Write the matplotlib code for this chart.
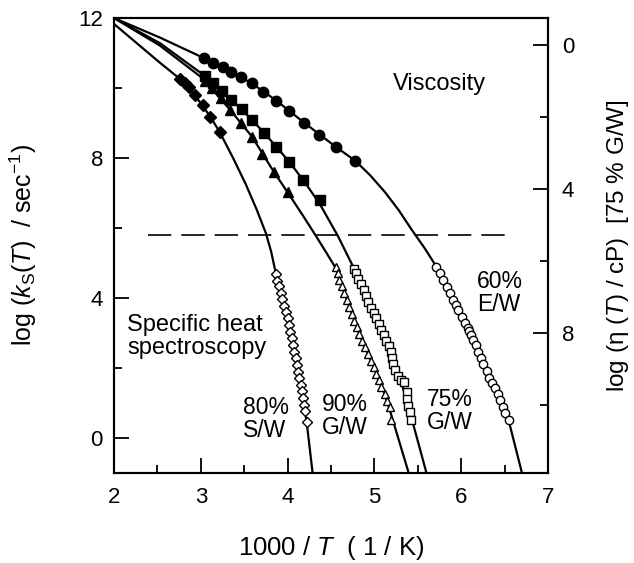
import matplotlib
matplotlib.use('Agg')
import matplotlib.pyplot as plt

plt.rcParams['font.family'] = ['Liberation Sans', 'DejaVu Sans']
plt.rcParams['mathtext.fontset'] = 'custom'
plt.rcParams['mathtext.rm'] = 'Liberation Sans'
plt.rcParams['mathtext.it'] = 'Liberation Sans:italic'

# ---------------- data ----------------
# Viscosity (filled markers), x = 1000/T, y = log k
visc_ew_x = [3.04, 3.14, 3.25, 3.35, 3.46, 3.59, 3.72, 3.87, 4.02, 4.19, 4.36, 4.56, 4.78]
visc_ew_y = [10.85, 10.72, 10.59, 10.46, 10.31, 10.13, 9.89, 9.64, 9.35, 9.01, 8.67, 8.31, 7.92]

visc_g75_x = [3.05, 3.14, 3.24, 3.35, 3.47, 3.59, 3.73, 3.87, 4.02, 4.18, 4.37]
visc_g75_y = [10.34, 10.15, 9.92, 9.66, 9.40, 9.09, 8.72, 8.32, 7.89, 7.36, 6.80]

visc_g90_x = [3.05, 3.13, 3.23, 3.34, 3.46, 3.59, 3.71, 3.84, 4.00]
visc_g90_y = [10.20, 10.00, 9.72, 9.37, 8.99, 8.61, 8.11, 7.61, 7.02]

visc_sw_x = [2.76, 2.82, 2.86, 2.93, 3.02, 3.11, 3.22]
visc_sw_y = [10.26, 10.13, 10.04, 9.80, 9.51, 9.18, 8.73]

# Specific heat spectroscopy (open markers)
heat_ew_x = [5.715, 5.754, 5.793, 5.831, 5.870, 5.908, 5.935, 5.966, 6.005, 6.043,
             6.074, 6.090, 6.113, 6.140, 6.167, 6.198, 6.228, 6.256, 6.294, 6.321,
             6.352, 6.390, 6.421, 6.448, 6.479, 6.506, 6.545]
heat_ew_y = [4.89, 4.71, 4.51, 4.32, 4.13, 3.94, 3.80, 3.66, 3.47, 3.28,
             3.13, 3.06, 2.94, 2.80, 2.66, 2.47, 2.28, 2.11, 1.91, 1.72,
             1.56, 1.42, 1.25, 1.09, 0.90, 0.71, 0.51]

heat_g75_x = [4.770, 4.789, 4.816, 4.847, 4.878, 4.905, 4.932, 4.963, 4.994, 5.021,
              5.048, 5.079, 5.110, 5.137, 5.164, 5.187, 5.202, 5.214, 5.241, 5.272,
              5.302, 5.341, 5.380, 5.380, 5.387, 5.406, 5.426]
heat_g75_y = [4.84, 4.71, 4.54, 4.39, 4.23, 4.07, 3.90, 3.72, 3.56, 3.42,
              3.25, 3.09, 2.94, 2.77, 2.64, 2.47, 2.28, 2.11, 1.94, 1.78,
              1.66, 1.59, 1.31, 1.11, 0.92, 0.73, 0.51]

heat_g90_x = [4.558, 4.577, 4.596, 4.623, 4.654, 4.685, 4.712, 4.743, 4.770, 4.801,
              4.828, 4.859, 4.894, 4.924, 4.963, 4.994, 5.021, 5.048, 5.079, 5.117,
              5.148, 5.175, 5.187]
heat_g90_y = [4.88, 4.71, 4.51, 4.33, 4.13, 3.94, 3.73, 3.54, 3.35, 3.16,
              2.97, 2.78, 2.59, 2.40, 2.21, 2.02, 1.83, 1.66, 1.47, 1.26,
              1.07, 0.90, 0.52]

heat_sw_x = [3.863, 3.883, 3.902, 3.921, 3.941, 3.960, 3.979, 3.999, 4.019, 4.030,
             4.045, 4.064, 4.076, 4.095, 4.107, 4.122, 4.134, 4.153, 4.165, 4.180,
             4.192, 4.203, 4.219]
heat_sw_y = [4.69, 4.50, 4.33, 4.13, 3.96, 3.77, 3.61, 3.42, 3.23, 3.04,
             2.85, 2.66, 2.47, 2.28, 2.09, 1.90, 1.71, 1.52, 1.33, 1.14,
             0.95, 0.76, 0.47]

# Fitted curves
fit_ew_x = [2.0, 2.53, 3.04, 3.35, 3.59, 3.87, 4.19, 4.56, 4.78, 4.95, 5.12, 5.28,
            5.43, 5.58, 5.715, 5.935, 6.14, 6.321, 6.506, 6.55, 6.70]
fit_ew_y = [12.0, 11.44, 10.85, 10.46, 10.13, 9.64, 9.01, 8.31, 7.92, 7.51, 7.03, 6.51,
            5.95, 5.42, 4.89, 3.80, 2.80, 1.72, 0.71, 0.47, -1.0]

fit_g75_x = [2.0, 2.53, 3.05, 3.24, 3.47, 3.73, 4.02, 4.20, 4.37, 4.58, 4.77, 4.905,
             5.048, 5.187, 5.302, 5.43, 5.60]
fit_g75_y = [12.0, 11.28, 10.34, 9.92, 9.39, 8.72, 7.89, 7.30, 6.69, 5.77, 4.82, 4.07,
             3.25, 2.47, 1.66, 0.55, -1.0]

fit_g90_x = [2.0, 2.53, 3.02, 3.34, 3.59, 3.84, 4.00, 4.17, 4.33, 4.45, 4.558, 4.685,
             4.828, 4.994, 5.117, 5.175, 5.395]
fit_g90_y = [12.0, 11.21, 10.28, 9.37, 8.61, 7.61, 7.02, 6.38, 5.76, 5.28, 4.84, 3.94,
             2.97, 2.02, 1.26, 0.82, -1.0]

fit_sw_x = [2.0, 2.53, 2.76, 2.93, 3.11, 3.22, 3.38, 3.52, 3.64, 3.75, 3.81, 3.863,
            3.96, 4.064, 4.153, 4.219, 4.288]
fit_sw_y = [11.83, 10.72, 10.26, 9.80, 9.18, 8.73, 7.96, 7.24, 6.55, 5.85, 5.33, 4.72,
            3.77, 2.66, 1.52, 0.47, -1.0]

dash_x = [2.39, 6.58]
dash_y = [5.8, 5.8]

x_ticks = [2, 3, 4, 5, 6, 7]
y_ticks = [0, 4, 8, 12]
r_ticks = [0, 4, 8]

# ---------------- figure ----------------
fig = plt.figure(figsize=(6.34, 5.63), dpi=100)
ax = fig.add_axes([114 / 634, 90 / 563, 434 / 634, 455 / 563])

lw = 1.6
for fx, fy in [(fit_ew_x, fit_ew_y), (fit_g75_x, fit_g75_y),
               (fit_g90_x, fit_g90_y), (fit_sw_x, fit_sw_y)]:
    ax.plot(fx, fy, color='black', lw=lw, zorder=2, solid_joinstyle='round')

ax.plot(dash_x, dash_y, color='black', lw=1.2, linestyle=(0, (14, 6)), zorder=1)

ax.plot(visc_ew_x, visc_ew_y, 'o', color='black', ms=7.5, zorder=3)
ax.plot(visc_g75_x, visc_g75_y, 's', color='black', ms=6.5, zorder=3)
ax.plot(visc_g90_x, visc_g90_y, '^', color='black', ms=7.5, zorder=3)
ax.plot(visc_sw_x, visc_sw_y, 'D', color='black', ms=6, zorder=3)

ok = dict(mfc='white', mec='black', mew=1.0, linestyle='none', zorder=3)
ax.plot(heat_ew_x, heat_ew_y, 'o', ms=6, **ok)
ax.plot(heat_g75_x, heat_g75_y, 's', ms=5.5, **ok)
ax.plot(heat_g90_x, heat_g90_y, '^', ms=6, **ok)
ax.plot(heat_sw_x, heat_sw_y, 'D', ms=5, **ok)

ax.set_xlim(2, 7)
ax.set_ylim(-1, 12)
ax.set_xticks(x_ticks)
ax.set_xticks([2.5, 3.5, 4.5, 5.5, 6.5], minor=True)
ax.set_yticks(y_ticks)
ax.set_yticks([2, 6, 10], minor=True)
ax.tick_params(which='both', direction='in', width=1.3, labelsize=16)
ax.tick_params(which='major', length=10.5)
ax.tick_params(which='minor', length=5.5)
ax.tick_params(axis='y', pad=8)
ax.tick_params(axis='x', pad=10)
for s in ax.spines.values():
    s.set_linewidth(1.5)

ax2 = ax.twinx()
ax2.set_ylim(11.88, -0.75)
ax2.set_yticks(r_ticks)
ax2.set_yticks([2, 6, 10], minor=True)
ax2.tick_params(which='both', direction='in', width=1.3, labelsize=16, pad=10)
ax2.tick_params(which='major', length=10.5)
ax2.tick_params(which='minor', length=5.5)
for s in ax2.spines.values():
    s.set_linewidth(1.5)

ax.set_xlabel('1000 / $T$  ( 1 / K)', fontsize=18.5)
ax.xaxis.set_label_coords(0.5, -0.134)
ax.set_ylabel(r'log ($k_\mathrm{S}$($T$)  / sec$^{-1}$)', fontsize=18)
ax.yaxis.set_label_coords(-0.172, 0.5)
ax2.set_ylabel('log (η ($T$) / cP)  [75 % G/W]', fontsize=17.5)
ax2.yaxis.set_label_coords(1.131, 0.5)

ax.text(5.75, 10.11, 'Viscosity', fontsize=17, ha='center', va='center')
ax.text(2.15, 2.89, 'Specific heat\nspectroscopy', fontsize=17, ha='left', va='center',
        linespacing=1.05)
ax.text(6.18, 4.15, '60%\nE/W', fontsize=16.5, ha='left', va='center', linespacing=1.0)
ax.text(5.60, 0.78, '75%\nG/W', fontsize=16.5, ha='left', va='center', linespacing=1.0)
ax.text(4.40, 0.63, '90%\nG/W', fontsize=16.5, ha='left', va='center', linespacing=1.0)
ax.text(3.49, 0.54, '80%\nS/W', fontsize=16.5, ha='left', va='center', linespacing=1.0)

fig.savefig('out.png', dpi=100, facecolor='white')
